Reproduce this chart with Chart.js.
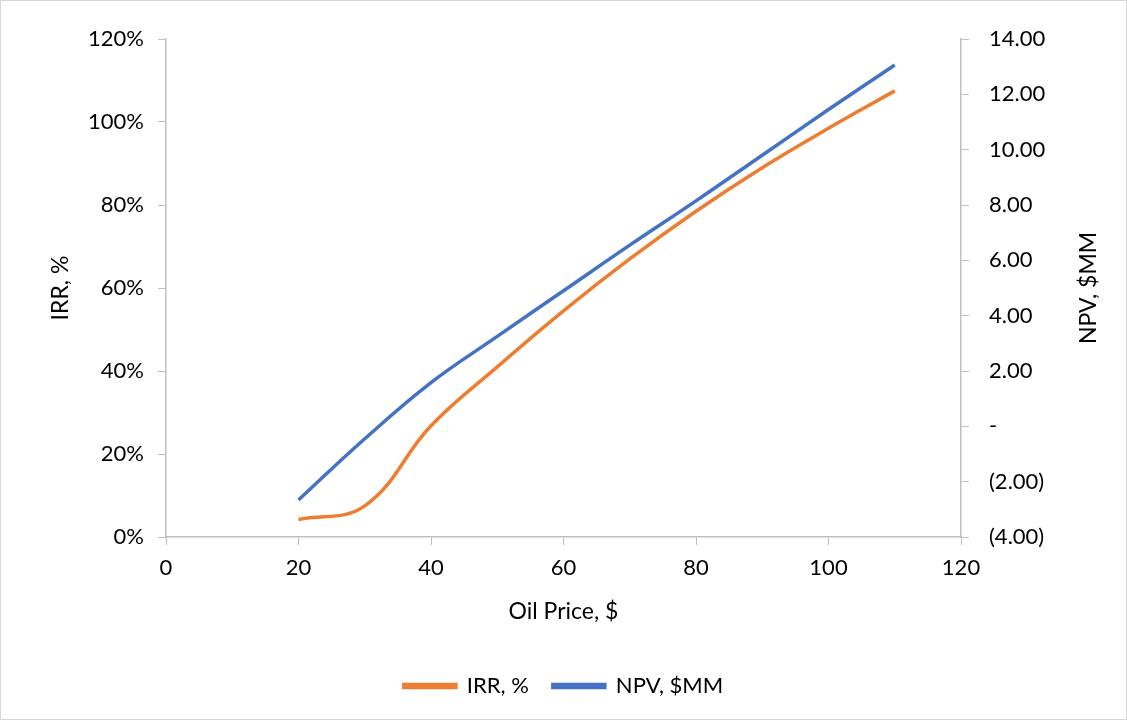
<!DOCTYPE html>
<html>
<head>
<meta charset="utf-8">
<script src="https://cdn.jsdelivr.net/npm/chart.js@4.4.1/dist/chart.umd.min.js"></script>
<style>
  html, body { margin: 0; padding: 0; background: #fff; }
  #wrap { position: relative; width: 1125px; height: 718px; border: 1px solid #d9d9d9; }
</style>
</head>
<body>
<div id="wrap"><canvas id="chart" width="1125" height="718"></canvas></div>
<script>
// Données
const oilPrices = [20, 30, 40, 50, 60, 70, 80, 90, 100, 110];
const irrValues = [4.2, 7.5, 26.8, 41, 54.5, 67, 78.5, 89, 98.5, 107.5];
const npvValues = [-2.66, -0.45, 1.58, 3.25, 4.9, 6.55, 8.15, 9.8, 11.45, 13.06];

const fontFamily = "Lato, 'Open Sans', 'Liberation Sans', sans-serif";
const axisColor = '#bfbfbf';
const rightTitle = 'NPV, $MM';

// Format comptable Excel : (2.00), -, 14.00
function formatNpv(v) {
    if (Math.abs(v) < 1e-9) return '-';
    const s = Math.abs(v).toFixed(2);
    return v < 0 ? '(' + s + ')' : s;
}

// Titre de l'axe droit tourné comme celui de gauche (de bas en haut)
const rightTitlePlugin = {
    id: 'rightTitle',
    afterDraw(chart) {
        const c = chart.ctx;
        const area = chart.chartArea;
        c.save();
        c.translate(1088, (area.top + area.bottom) / 2);
        c.rotate(-Math.PI / 2);
        c.font = '23px ' + fontFamily;
        c.fillStyle = '#000';
        c.textAlign = 'center';
        c.textBaseline = 'middle';
        c.fillText(rightTitle, 0, 0);
        c.restore();
    }
};

const ctx = document.getElementById('chart');
new Chart(ctx, {
    type: 'line',
    data: {
        datasets: [
            {
                label: 'IRR, %',
                data: oilPrices.map((x, i) => ({ x: x, y: irrValues[i] })),
                borderColor: '#ed7d31',
                backgroundColor: '#ed7d31',
                borderWidth: 3.5,
                pointRadius: 0,
                tension: 0.4,
                yAxisID: 'y'
            },
            {
                label: 'NPV, $MM',
                data: oilPrices.map((x, i) => ({ x: x, y: npvValues[i] })),
                borderColor: '#4472c4',
                backgroundColor: '#4472c4',
                borderWidth: 3.5,
                pointRadius: 0,
                tension: 0.4,
                yAxisID: 'y1'
            }
        ]
    },
    options: {
        responsive: false,
        animation: false,
        layout: { padding: { top: 38, bottom: 12, left: 0, right: 0 } },
        plugins: {
            tooltip: { enabled: false },
            legend: {
                position: 'bottom',
                labels: {
                    font: { family: fontFamily, size: 22 },
                    color: '#000',
                    boxWidth: 52,
                    boxHeight: 3,
                    padding: 24
                }
            }
        },
        scales: {
            x: {
                type: 'linear',
                min: 0,
                max: 120,
                ticks: { stepSize: 20, font: { family: fontFamily, size: 22 }, color: '#000', padding: 10 },
                grid: { drawOnChartArea: false, tickLength: 8, color: axisColor },
                border: { color: axisColor, width: 1.5 },
                title: { display: true, text: 'Oil Price, $', font: { family: fontFamily, size: 23 }, color: '#000', padding: { top: 0, bottom: 26 } },
                afterFit: s => { s.height = 114; }
            },
            y: {
                position: 'left',
                min: 0,
                max: 120,
                ticks: { stepSize: 20, callback: v => v + '%', font: { family: fontFamily, size: 22 }, color: '#000', padding: 14 },
                grid: { drawOnChartArea: false, tickLength: 8, color: axisColor },
                border: { color: axisColor, width: 1.5 },
                title: { display: true, text: 'IRR, %', font: { family: fontFamily, size: 23 }, color: '#000', padding: { top: 46, bottom: 0 } },
                afterFit: s => { s.width = 165; }
            },
            y1: {
                position: 'right',
                min: -4,
                max: 14,
                ticks: { stepSize: 2, callback: v => formatNpv(v), font: { family: fontFamily, size: 22 }, color: '#000', padding: 20 },
                grid: { drawOnChartArea: false, tickLength: 8, color: axisColor },
                border: { color: axisColor, width: 1.5 },
                afterFit: s => { s.width = 165; }
            }
        }
    },
    plugins: [rightTitlePlugin]
});
</script>
</body>
</html>
